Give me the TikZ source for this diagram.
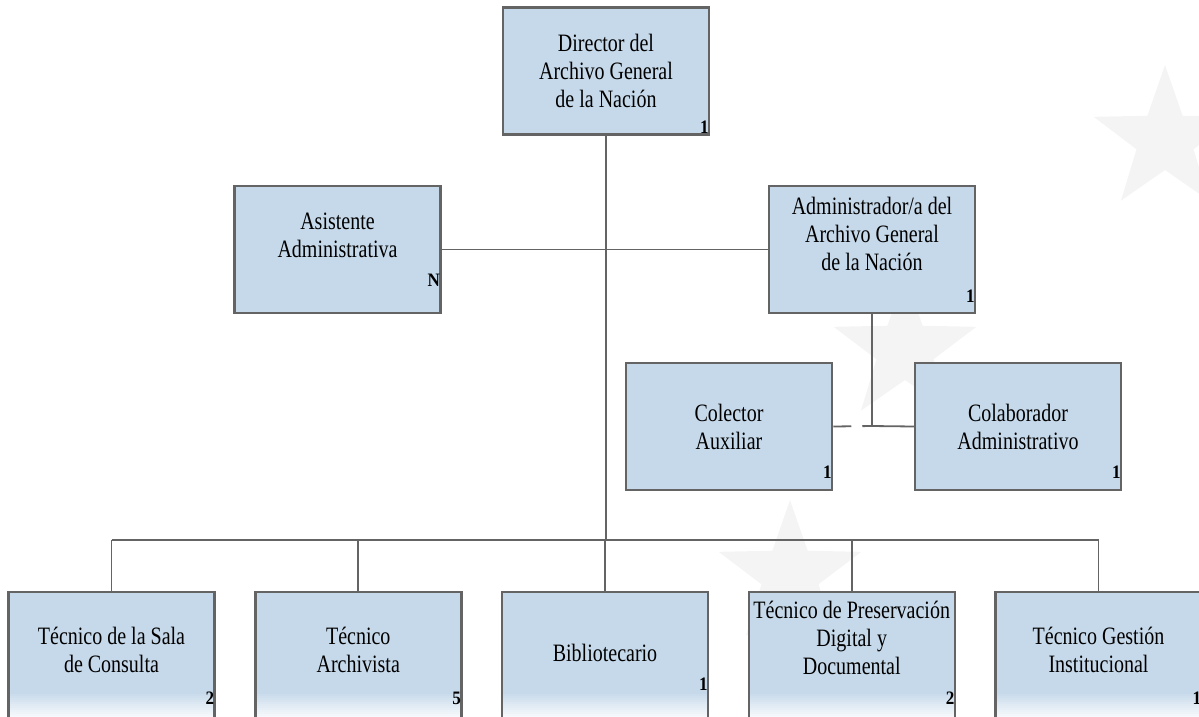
\documentclass[tikz,border=0pt]{standalone}
\usepackage{fontspec}
\setmainfont{Liberation Serif}[FakeStretch=0.8]
\newfontfamily\cifra{Liberation Serif}[FakeStretch=0.9]
\usepackage{tikz}
\usetikzlibrary{positioning}
\usetikzlibrary{shapes.geometric}
\definecolor{cajaazul}{RGB}{198,217,234}
\definecolor{borde}{RGB}{100,100,100}
\definecolor{marca}{RGB}{244,244,244}

\begin{document}
\begin{tikzpicture}[x=1pt, y=-1pt,
  cargo/.style = {draw=borde, line width=2.5pt, fill=cajaazul, minimum width=206pt,
    minimum height=127pt, align=center, inner sep=2pt, font=\fontsize{25}{28}\selectfont},
  base/.style = {cargo, minimum height=130pt,
    path picture={\foreach \i in {0,...,13}
      \fill[white!\the\numexpr100-\i*7\relax!cajaazul]
        ([yshift=2*\i pt]path picture bounding box.south west)
        rectangle ([yshift=2*\i pt+2.2pt]path picture bounding box.south east);}},
  num/.style = {inner sep=1.5pt, font=\cifra\fontsize{19}{19}\selectfont\bfseries},
  linea/.style = {draw=borde, line width=1.8pt},
  tronco/.style = {draw=borde, line width=2.6pt},
  estrella/.style = {star, star points=5, star point ratio=2.5, fill=marca, draw=none},
  node distance=246.75pt]
\path[use as bounding box, clip] (0,0) rectangle (1199,716);

% marcas de agua
\node[estrella, minimum size=150pt] (e1) at (1165,140) {};
\node[estrella, minimum size=150pt] (e2) at (905,350) {};
\node[estrella, minimum size=150pt] (e3) at (790,575) {};

% cargos
\node[cargo] (dir) at (606,71) {Director del\\Archivo General\\de la Nación};
\node[cargo] (asis) at (337.5,249.5) {Asistente\\Administrativa\\\mbox{}};
\node[cargo] (admin) at (872,249.5) {Administrador/a del\\Archivo General\\de la Nación\\[4pt]\mbox{}};
\node[cargo] (colec) at (729,426.5) {Colector\\Auxiliar};
\node[cargo] (colab) at (1018,426.5) {Colaborador\\Administrativo};

\node[base] (b1) at (111.5,657) {Técnico de la Sala\\de Consulta\\[-14pt]};
\node[base] (b2) [right of=b1] {Técnico\\Archivista\\[-14pt]};
\node[base] (b3) [right of=b2] {Bibliotecario\\[-20pt]};
\node[base] (b4) [right of=b3] {Técnico de Preservación\\Digital y\\Documental\\[10pt]};
\node[base] (b5) [right of=b4] {Técnico Gestión\\Institucional\\[-14pt]};

\coordinate (barra) at (606,540);
\coordinate (cruce) at (872,426);

% conexiones
\draw[tronco] (dir.south) -- (barra);
\draw[linea] (asis.east) -- (admin.west);
\draw[linea] (admin.south) -- (cruce);
\draw[linea] (cruce) -- (colab.west);
\draw[linea, dash pattern=on 18pt off 11pt] (colec.east) -- (cruce);
\draw[linea] (b1.north |- barra) -- (b5.north |- barra);
\foreach \b in {b1,b2,b3,b4,b5}
  \draw[linea] (\b.north) -- (\b.north |- barra);

% cantidades
\node[num, anchor=base east] (n1) at ([yshift=2pt]dir.south east) {1};
\node[num, anchor=base east] (n2) at ([yshift=28pt]asis.south east) {N};
\node[num, anchor=base east] (n3) at ([yshift=12pt]admin.south east) {1};
\node[num, anchor=base east] (n4) at ([yshift=13pt]colec.south east) {1};
\node[num, anchor=base east] (n5) at ([yshift=13pt]colab.south east) {1};
\foreach \b/\c/\y in {b1/2/704,b2/5/704,b3/1/690,b4/2/704,b5/1/704}
  \node[num, anchor=base east] (n\b) at (\b.east |- 0,\y) {\c};
\end{tikzpicture}
\end{document}
